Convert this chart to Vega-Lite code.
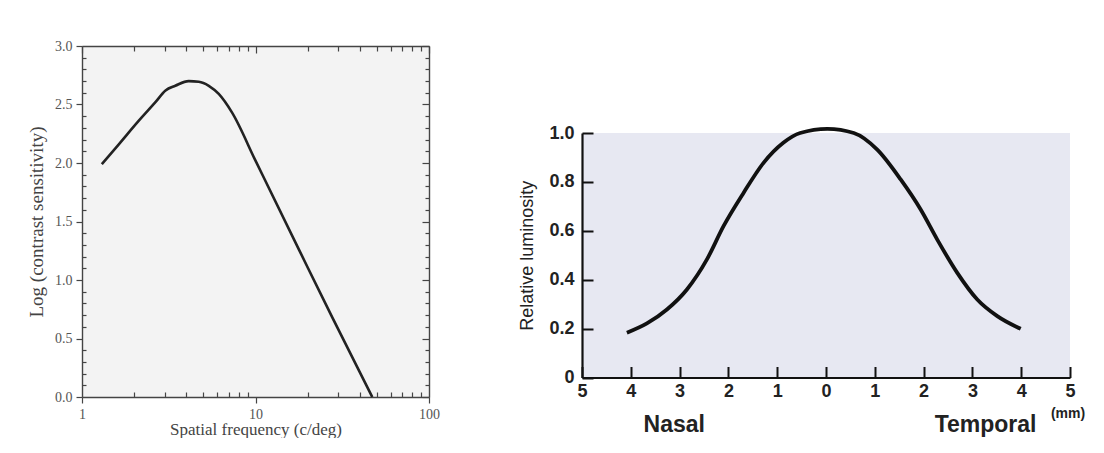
{
  "$schema": "https://vega.github.io/schema/vega-lite/v6.json",
  "background": "white",
  "padding": {"left": 27, "top": 39, "right": 0, "bottom": 0},
  "spacing": 78,
  "config": {
    "view": {"stroke": null},
    "axis": {"grid": false, "labelOverlap": false, "labelFlush": false, "labelBound": false}
  },
  "datasets": {
    "csf": [
      {"freq": 1.3, "logcs": 1.99},
      {"freq": 1.63, "logcs": 2.16},
      {"freq": 2.12, "logcs": 2.36},
      {"freq": 2.65, "logcs": 2.52},
      {"freq": 3.03, "logcs": 2.62},
      {"freq": 3.45, "logcs": 2.66},
      {"freq": 4.12, "logcs": 2.7},
      {"freq": 4.71, "logcs": 2.695},
      {"freq": 5.38, "logcs": 2.66},
      {"freq": 6.14, "logcs": 2.59},
      {"freq": 7.33, "logcs": 2.43},
      {"freq": 10, "logcs": 2.02},
      {"freq": 17.8, "logcs": 1.26},
      {"freq": 27.7, "logcs": 0.68},
      {"freq": 47.1, "logcs": 0.0}
    ],
    "lum": [
      {"pos": -4.08, "lum": 0.183},
      {"pos": -3.67, "lum": 0.221},
      {"pos": -3.26, "lum": 0.278},
      {"pos": -2.85, "lum": 0.36},
      {"pos": -2.44, "lum": 0.483},
      {"pos": -2.1, "lum": 0.619},
      {"pos": -1.69, "lum": 0.755},
      {"pos": -1.28, "lum": 0.878},
      {"pos": -0.875, "lum": 0.96},
      {"pos": -0.53, "lum": 1.0},
      {"pos": 0.03, "lum": 1.017},
      {"pos": 0.57, "lum": 1.0},
      {"pos": 1.05, "lum": 0.932},
      {"pos": 1.53, "lum": 0.81},
      {"pos": 1.94, "lum": 0.687},
      {"pos": 2.28, "lum": 0.564},
      {"pos": 2.69, "lum": 0.428},
      {"pos": 3.1, "lum": 0.319},
      {"pos": 3.51, "lum": 0.251},
      {"pos": 3.99, "lum": 0.199}
    ]
  },
  "hconcat": [
    {
      "width": 347,
      "height": 351,
      "view": {"fill": "#f3f3f3", "stroke": null},
      "data": {"name": "csf"},
      "resolve": {"axis": {"x": "independent", "y": "independent"}},
      "layer": [
        {
          "mark": {"type": "line", "color": "#222222", "strokeWidth": 2.6, "interpolate": "monotone"},
          "encoding": {
            "x": {
              "field": "freq", "type": "quantitative",
              "scale": {"type": "log", "domain": [1, 100]},
              "axis": {
                "orient": "bottom",
                "values": [1, 2, 3, 4, 5, 6, 7, 8, 9, 10, 20, 30, 40, 50, 60, 70, 80, 90, 100],
                "labelExpr": "datum.value == 1 || datum.value == 10 || datum.value == 100 ? format(datum.value, 'd') : ''",
                "tickSize": {"condition": {"test": "datum.value == 1 || datum.value == 10 || datum.value == 100", "value": 6}, "value": -5},
                "tickColor": "#444444", "tickWidth": 1.2,
                "domainColor": "#444444", "domainWidth": 1.4,
                "labelFont": "Liberation Serif", "labelFontSize": 14, "labelColor": "#555555", "labelPadding": 4,
                "title": "Spatial frequency (c/deg)",
                "titleFont": "Liberation Serif", "titleFontSize": 17, "titleFontWeight": "normal", "titleColor": "#444444", "titlePadding": 0
              }
            },
            "y": {
              "field": "logcs", "type": "quantitative",
              "scale": {"domain": [0, 3]},
              "axis": {
                "orient": "left",
                "values": [0, 0.1, 0.2, 0.3, 0.4, 0.5, 0.6, 0.7, 0.8, 0.9, 1.0, 1.1, 1.2, 1.3, 1.4, 1.5, 1.6, 1.7, 1.8, 1.9, 2.0, 2.1, 2.2, 2.3, 2.4, 2.5, 2.6, 2.7, 2.8, 2.9, 3.0],
                "labelExpr": "round(datum.value * 10) % 5 == 0 ? format(datum.value, '.1f') : ''",
                "tickSize": {"condition": {"test": "round(datum.value * 10) % 5 == 0", "value": 6}, "value": -4},
                "tickColor": "#444444", "tickWidth": 1.2,
                "domainColor": "#444444", "domainWidth": 1.4,
                "labelFont": "Liberation Serif", "labelFontSize": 14, "labelColor": "#555555", "labelPadding": 4,
                "title": "Log (contrast sensitivity)",
                "titleFont": "Liberation Serif", "titleFontSize": 19, "titleFontWeight": "normal", "titleColor": "#444444", "titlePadding": 8
              }
            }
          }
        },
        {
          "mark": {"type": "line", "opacity": 0},
          "encoding": {
            "x": {
              "field": "freq", "type": "quantitative",
              "scale": {"type": "log", "domain": [1, 100]},
              "axis": {
                "orient": "top",
                "values": [1, 2, 3, 4, 5, 6, 7, 8, 9, 10, 20, 30, 40, 50, 60, 70, 80, 90, 100],
                "labels": false, "title": null,
                "tickSize": {"condition": {"test": "datum.value == 1 || datum.value == 10 || datum.value == 100", "value": -7}, "value": -5},
                "tickColor": "#444444", "tickWidth": 1.2,
                "domainColor": "#444444", "domainWidth": 1.4
              }
            },
            "y": {
              "field": "logcs", "type": "quantitative",
              "scale": {"domain": [0, 3]},
              "axis": {
                "orient": "right",
                "values": [0, 0.1, 0.2, 0.3, 0.4, 0.5, 0.6, 0.7, 0.8, 0.9, 1.0, 1.1, 1.2, 1.3, 1.4, 1.5, 1.6, 1.7, 1.8, 1.9, 2.0, 2.1, 2.2, 2.3, 2.4, 2.5, 2.6, 2.7, 2.8, 2.9, 3.0],
                "labels": false, "title": null,
                "tickSize": {"condition": {"test": "round(datum.value * 10) % 5 == 0", "value": -7}, "value": -4},
                "tickColor": "#444444", "tickWidth": 1.2,
                "domainColor": "#444444", "domainWidth": 1.4
              }
            }
          }
        }
      ]
    },
    {
      "spacing": 0,
      "vconcat": [
        {
          "width": 488,
          "height": 75,
          "view": {"stroke": null},
          "data": {"values": [{"t": ""}]},
          "mark": {"type": "text"},
          "encoding": {"text": {"field": "t"}}
        },
        {
          "width": 488,
          "height": 244.5,
          "view": {"fill": "#e7e8f2", "stroke": null},
          "layer": [
            {
              "data": {"name": "lum"},
              "mark": {"type": "line", "color": "#111111", "strokeWidth": 3.8, "interpolate": "monotone"},
              "encoding": {
                "x": {
                  "field": "pos", "type": "quantitative",
                  "scale": {"domain": [-5, 5], "nice": false},
                  "axis": {
                    "values": [-5, -4, -3, -2, -1, 0, 1, 2, 3, 4, 5],
                    "labelExpr": "format(abs(datum.value), 'd')",
                    "tickSize": -11, "tickColor": "#111111", "tickWidth": 2,
                    "domainColor": "#111111", "domainWidth": 2.2,
                    "labelFont": "Liberation Sans", "labelFontSize": 18, "labelFontWeight": "bold", "labelColor": "#222222", "labelPadding": 16,
                    "title": null
                  }
                },
                "y": {
                  "field": "lum", "type": "quantitative",
                  "scale": {"domain": [0, 1], "nice": false},
                  "axis": {
                    "values": [0, 0.2, 0.4, 0.6, 0.8, 1.0],
                    "labelExpr": "datum.value == 0 ? '0' : format(datum.value, '.1f')",
                    "tickSize": -11, "tickColor": "#111111", "tickWidth": 2,
                    "domainColor": "#111111", "domainWidth": 2.2,
                    "labelFont": "Liberation Sans", "labelFontSize": 18, "labelFontWeight": "bold", "labelColor": "#222222", "labelPadding": 19,
                    "title": "Relative luminosity",
                    "titleFont": "Liberation Sans", "titleFontSize": 18, "titleFontWeight": "normal", "titleColor": "#222222", "titlePadding": 12
                  }
                }
              }
            },
            {
              "data": {"values": [{"label": "Nasal"}]},
              "mark": {"type": "text", "font": "Liberation Sans", "fontWeight": "bold", "fontSize": 23, "baseline": "alphabetic", "align": "center", "color": "#222222"},
              "encoding": {
                "x": {"datum": -3.11},
                "y": {"datum": -0.224},
                "text": {"field": "label"}
              }
            },
            {
              "data": {"values": [{"label": "Temporal"}]},
              "mark": {"type": "text", "font": "Liberation Sans", "fontWeight": "bold", "fontSize": 23, "baseline": "alphabetic", "align": "center", "color": "#222222"},
              "encoding": {
                "x": {"datum": 3.27},
                "y": {"datum": -0.224},
                "text": {"field": "label"}
              }
            },
            {
              "data": {"values": [{"label": "(mm)"}]},
              "mark": {"type": "text", "font": "Liberation Sans", "fontWeight": "bold", "fontSize": 14, "baseline": "alphabetic", "align": "center", "color": "#222222"},
              "encoding": {
                "x": {"datum": 4.96},
                "y": {"datum": -0.164},
                "text": {"field": "label"}
              }
            }
          ]
        }
      ]
    }
  ]
}
